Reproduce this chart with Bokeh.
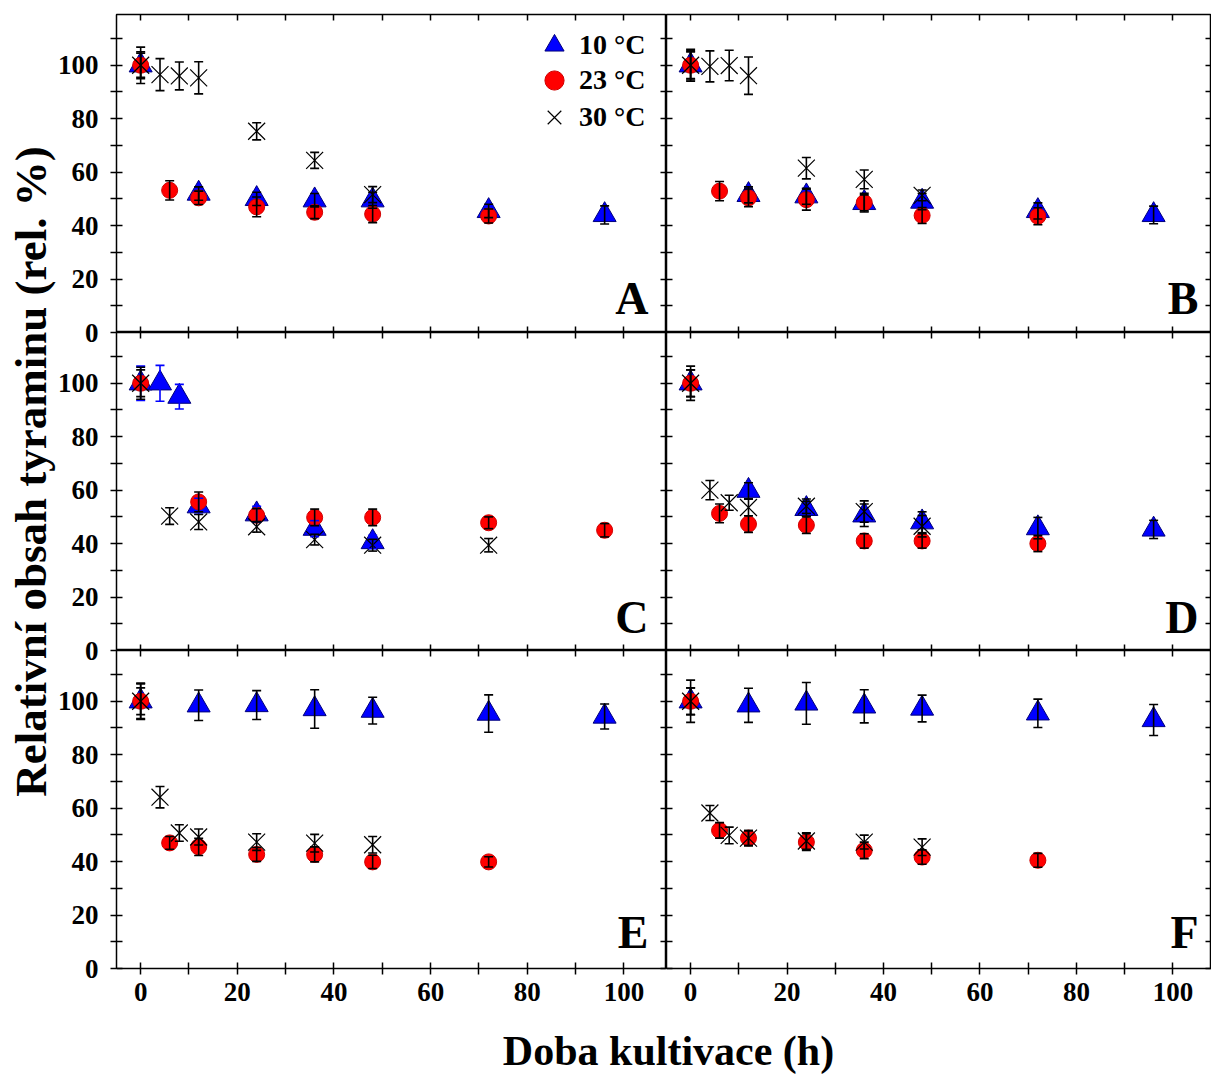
import numpy as np
from bokeh.plotting import figure
from bokeh.layouts import gridplot, row, column
from bokeh.models import (ColumnDataSource, Whisker, TeeHead, FixedTicker,
                          Range1d, LinearAxis, Label, Legend, LegendItem)
from bokeh.embed import file_html
from bokeh.resources import INLINE

# ---------------- data ----------------
panel_letters = ["A", "B", "C", "D", "E", "F"]
series_labels = ["10 °C", "23 °C", "30 °C"]
x_title = "Doba kultivace (h)"
y_title = "Relativní obsah tyraminu (rel. %)"
y_ticks = [0, 20, 40, 60, 80, 100]
y_minor = [10, 30, 50, 70, 90, 110]
x_ticks = [0, 20, 40, 60, 80, 100]
x_minor = [10, 30, 50, 70, 90]

# Panel A
A_t10 = [0, 12, 24, 36, 48, 72, 96]
A_v10 = [100, 52, 50, 49.5, 49.5, 45.5, 44]
A_e10 = [4.5, 2.5, 2.5, 2.5, 3, 2.5, 3.4]
A_t23 = [0, 6, 12, 24, 36, 48, 72]
A_v23 = [100, 53.2, 50.4, 47, 45, 44.3, 43.6]
A_e23 = [5, 3.6, 2.5, 3.7, 2.4, 3.2, 2.6]
A_t30 = [0, 4, 8, 12, 24, 36, 48]
A_v30 = [100, 96.5, 96, 95.3, 75.3, 64.4, 51.6]
A_e30 = [6.8, 6, 5.2, 6, 3.2, 3, 3]

# Panel B
B_t10 = [0, 12, 24, 36, 48, 72, 96]
B_v10 = [100, 51.5, 51, 48.5, 49, 45.5, 44]
B_e10 = [5, 3, 3, 3, 3, 3, 3.3]
B_t23 = [0, 6, 12, 24, 36, 48, 72]
B_v23 = [100, 52.9, 50.4, 49.7, 48.6, 43.8, 43.5]
B_e23 = [5.5, 3.6, 3.3, 3.9, 3.5, 3, 3.2]
B_t30 = [0, 4, 8, 12, 24, 36, 48]
B_v30 = [100, 99.6, 99.9, 96.1, 61.5, 57.3, 51.3]
B_e30 = [6, 5.8, 5.7, 7, 4, 3.5, 2]

# Panel C
C_t10 = [0, 4, 8, 12, 24, 36, 48]
C_v10 = [100, 100, 95, 54, 51, 45.6, 40.6]
C_e10 = [6.4, 6.7, 4.6, 3, 3, 3, 2.5]
C_t23 = [0, 12, 24, 36, 48, 72, 96]
C_v23 = [100, 55.6, 50.6, 49.8, 49.8, 47.8, 45]
C_e23 = [5, 3.7, 2.5, 3.1, 3.1, 2.2, 2.5]
C_t30 = [0, 6, 12, 24, 36, 48, 72]
C_v30 = [100, 50.3, 48.1, 46.3, 41.5, 39.4, 39.4]
C_e30 = [6, 3.1, 2.8, 2, 2, 2.2, 2.5]

# Panel D
D_t10 = [0, 12, 24, 36, 48, 72, 96]
D_v10 = [100, 59.8, 53, 50.6, 48, 45.8, 45.3]
D_e10 = [5, 3, 2.8, 4.2, 3.9, 4, 3.4]
D_t23 = [0, 6, 12, 24, 36, 48, 72]
D_v23 = [100, 51.3, 47.3, 46.9, 41, 41, 40]
D_e23 = [5, 3.5, 3.1, 3.1, 2.7, 2.7, 3]
D_t30 = [0, 4, 8, 12, 24, 36, 48]
D_v30 = [100, 60, 55.3, 53.5, 54, 52, 46.5]
D_e30 = [6.4, 3.6, 2.8, 3.1, 2.7, 4, 4]

# Panel E
E_t10 = [0, 12, 24, 36, 48, 72, 96]
E_v10 = [100, 98.5, 98.6, 97.1, 96.5, 95.4, 94.3]
E_e10 = [6.8, 5.7, 5.4, 7.2, 5, 7, 4.7]
E_t23 = [0, 6, 12, 24, 36, 48, 72]
E_v23 = [100, 47, 45.5, 42.7, 42.7, 39.9, 39.9]
E_e23 = [5, 2.4, 3.2, 2.6, 2.8, 2.5, 1.9]
E_t30 = [0, 4, 8, 12, 24, 36, 48]
E_v30 = [100, 64.1, 50.7, 49.2, 47.3, 46.9, 46.3]
E_e30 = [6.5, 4, 3.1, 3, 3.1, 3.3, 3.1]

# Panel F
F_t10 = [0, 12, 24, 36, 48, 72, 96]
F_v10 = [100, 98.5, 99.2, 98.1, 97.3, 95.5, 93]
F_e10 = [5, 6.4, 7.8, 6.2, 5, 5.3, 5.8]
F_t23 = [0, 6, 12, 24, 36, 48, 72]
F_v23 = [100, 51.7, 48.8, 47.3, 44.2, 41.7, 40.5]
F_e23 = [5, 2.9, 2.8, 3.1, 3.1, 2.7, 2.6]
F_t30 = [0, 4, 8, 12, 24, 36, 48]
F_v30 = [100, 58.2, 49.8, 48.8, 47.7, 47.3, 45.4]
F_e30 = [7.9, 2.8, 3.1, 2.8, 3.1, 2.6, 3.1]

panels = [
    [(A_t10, A_v10, A_e10), (A_t23, A_v23, A_e23), (A_t30, A_v30, A_e30)],
    [(B_t10, B_v10, B_e10), (B_t23, B_v23, B_e23), (B_t30, B_v30, B_e30)],
    [(C_t10, C_v10, C_e10), (C_t23, C_v23, C_e23), (C_t30, C_v30, C_e30)],
    [(D_t10, D_v10, D_e10), (D_t23, D_v23, D_e23), (D_t30, D_v30, D_e30)],
    [(E_t10, E_v10, E_e10), (E_t23, E_v23, E_e23), (E_t30, E_v30, E_e30)],
    [(F_t10, F_v10, F_e10), (F_t23, F_v23, F_e23), (F_t30, F_v30, F_e30)],
]

# ---------------- layout / style ----------------
FONT = "Liberation Serif"
BLUE = "#0000FF"
RED = "#FF0000"

W, H = 1211, 1075
LEFT_W = 116          # strip holding y tick labels and y title
TOP_B = 14
BOTTOM_B = 45
COL_W = [550, 545]
ROW_H = 318
x_lims = [(-5.0, 108.8), (-5.0, 108.0)]
y_lims = (0.0, 119.0)
XTITLE_H = H - (TOP_B + 3 * ROW_H + BOTTOM_B)


def tick_axis(ticks, minor, tin, tout, labels, standoff=0, **kw):
    a = LinearAxis(ticker=FixedTicker(ticks=ticks, minor_ticks=minor),
                   axis_line_color=None,
                   major_tick_in=tin, major_tick_out=tout,
                   minor_tick_in=tin, minor_tick_out=tout,
                   major_tick_line_color="black", minor_tick_line_color="black",
                   major_tick_line_width=1.5, minor_tick_line_width=1.5, **kw)
    if labels:
        a.major_label_text_font = FONT
        a.major_label_text_font_style = "bold"
        a.major_label_text_font_size = "27px"
        a.major_label_text_color = "black"
        a.major_label_standoff = standoff
    else:
        a.major_label_text_color = None
        a.major_label_standoff = 0
    return a


def make_panel(i, series):
    c, r = i % 2, i // 2
    top, bottom = (r == 0), (r == 2)
    w = COL_W[c]
    h = ROW_H + (TOP_B if top else 0) + (BOTTOM_B if bottom else 0)
    p = figure(width=w, height=h,
               x_range=Range1d(*x_lims[c]), y_range=Range1d(*y_lims),
               output_backend="svg", toolbar_location=None,
               x_axis_location=None, y_axis_location=None,
               min_border_left=0, min_border_right=0,
               min_border_top=TOP_B if top else 0,
               min_border_bottom=BOTTOM_B if bottom else 0,
               outline_line_color="black", outline_line_width=1.5,
               background_fill_color="white", border_fill_color="white")
    p.grid.visible = False

    p.add_layout(tick_axis(y_ticks, y_minor, 6, 0, False), "left")
    p.add_layout(tick_axis(y_ticks, y_minor, 6, 0, False), "right")
    p.add_layout(tick_axis(x_ticks, x_minor, 6, 0, False), "above")
    p.add_layout(tick_axis(x_ticks, x_minor, 6, 6 if bottom else 0, bottom, 8), "below")

    (t10, v10, e10), (t23, v23, e23), (t30, v30, e30) = series
    r10 = p.scatter(t10, v10, marker="triangle", size=23, fill_color=BLUE,
                    line_color="#00007A", line_width=1)
    r23 = p.scatter(t23, v23, marker="circle", size=16, fill_color=RED,
                    line_color="#D00000", line_width=1)
    r30 = p.scatter(t30, v30, marker="x", size=24, line_color="black",
                    line_width=1.2)

    err_colors = ["black", "black", "black"]
    if i == 2:
        err_colors[0] = BLUE
    for (t, v, e), col in zip(series, err_colors):
        v = np.asarray(v, float)
        e = np.asarray(e, float)
        src = ColumnDataSource(dict(x=t, lo=v - e, hi=v + e))
        wk = Whisker(source=src, base="x", upper="hi", lower="lo",
                     line_color=col, line_width=1.6, level="annotation",
                     upper_head=TeeHead(size=9, line_color=col, line_width=1.6),
                     lower_head=TeeHead(size=9, line_color=col, line_width=1.6))
        p.add_layout(wk)

    # panel letter (anchored at bottom-right corner of the panel)
    p.add_layout(Label(x=x_lims[c][1], y=y_lims[0], text=panel_letters[i],
                       text_align="right", text_baseline="middle",
                       x_offset=-(18 if c == 0 else 13),
                       y_offset=[34, 33, 36][r],
                       text_font=FONT, text_font_style="bold",
                       text_font_size="46px", text_color="black"))

    if i == 0:
        row_centers = [45, 80, 116.5]   # page pixels
        GLYPH = 48
        for k, (lab, rr) in enumerate(zip(series_labels, [r10, r23, r30])):
            top_px = row_centers[k] - GLYPH / 2
            lg = Legend(items=[LegendItem(label=lab, renderers=[rr])],
                        location=(554 - GLYPH / 2 - LEFT_W,
                                  (TOP_B + ROW_H) - (top_px + GLYPH)),
                        padding=0, margin=0, spacing=0,
                        glyph_width=GLYPH, glyph_height=GLYPH, label_height=GLYPH,
                        label_standoff=1,
                        label_text_font=FONT, label_text_font_style="bold",
                        label_text_font_size="28px", label_text_color="black",
                        background_fill_alpha=0, border_line_color=None)
            p.add_layout(lg)
    return p


figs = [make_panel(i, s) for i, s in enumerate(panels)]
grid = gridplot([[figs[0], figs[1]], [figs[2], figs[3]], [figs[4], figs[5]]],
                toolbar_location=None)

# left strip: y tick labels of the three rows + y title
lab = figure(width=LEFT_W, height=H, x_range=Range1d(0, LEFT_W), y_range=Range1d(0, H),
             output_backend="svg", toolbar_location=None,
             x_axis_location=None, y_axis_location=None, min_border=0,
             outline_line_color=None)
lab.grid.visible = False
upp = (y_lims[1] - y_lims[0]) / ROW_H
for r in range(3):
    rb = TOP_B + ROW_H * (r + 1)       # page y of the row's bottom edge
    lab.extra_y_ranges[f"r{r}"] = Range1d(y_lims[0] + (rb - H) * upp, y_lims[0] + rb * upp)
    ax = tick_axis(y_ticks, y_minor, 0, 6, True, 12,
                   y_range_name=f"r{r}", fixed_location=LEFT_W, bounds=y_lims)
    ax.axis_line_color = "black"
    ax.axis_line_width = 1.5
    lab.add_layout(ax, "left")
lab.add_layout(Label(x=30, y=H - 471, text=y_title, angle=90, angle_units="deg",
                     text_align="center", text_baseline="middle",
                     text_font=FONT, text_font_style="bold",
                     text_font_size="45px", text_color="black"))

xfig = figure(width=sum(COL_W), height=XTITLE_H,
              x_range=Range1d(0, sum(COL_W)), y_range=Range1d(0, XTITLE_H),
              output_backend="svg", toolbar_location=None,
              x_axis_location=None, y_axis_location=None, min_border=0,
              outline_line_color=None)
xfig.grid.visible = False
xfig.add_layout(Label(x=668 - LEFT_W, y=H - 1050, text=x_title,
                      text_align="center", text_baseline="middle",
                      text_font=FONT, text_font_style="bold",
                      text_font_size="42px", text_color="black"))

layout = row(lab, column(grid, xfig))

open("out.html", "w").write(file_html(layout, INLINE))
